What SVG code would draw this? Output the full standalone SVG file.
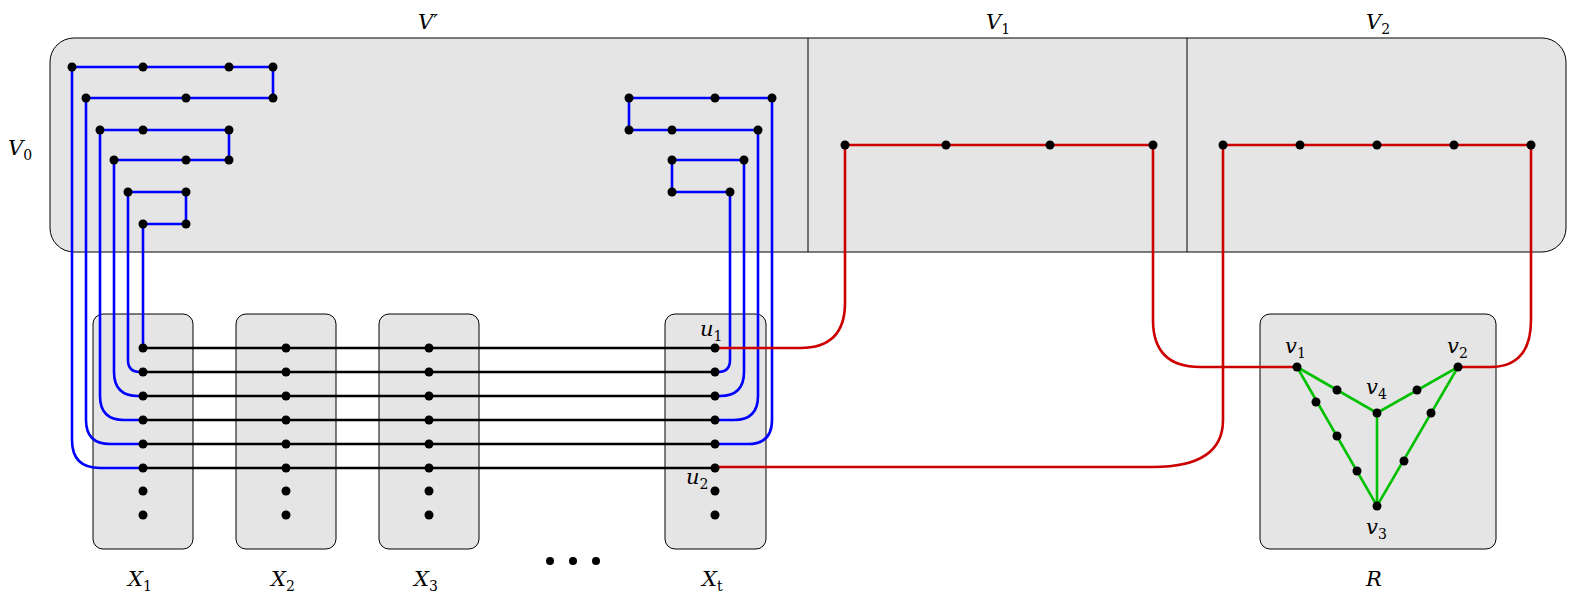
<svg xmlns="http://www.w3.org/2000/svg" width="1578" height="599" viewBox="0 0 1578 599">
<style>
.box{fill:#e5e5e5;stroke:#000;stroke-width:1}
.b{fill:none;stroke:#0000ff;stroke-width:2.6}
.r{fill:none;stroke:#cc0000;stroke-width:2.6}
.k{fill:none;stroke:#000;stroke-width:2.6}
.g{fill:none;stroke:#00c000;stroke-width:2.6}
.d{fill:#000}
text{font-family:"DejaVu Serif","Liberation Serif",serif;font-style:italic;font-size:21px;fill:#000}
.s{font-size:14px;font-style:normal}
</style>
<rect width="1578" height="599" fill="#fff"/>
<g id="V">
<rect class="box" x="50" y="38" width="1516" height="214" rx="24"/>
<line x1="808" y1="38" x2="808" y2="252" stroke="#000"/>
<line x1="1187" y1="38" x2="1187" y2="252" stroke="#000"/>
<text x="418" y="29">V′</text>
<text x="986" y="29">V<tspan class="s" dy="5">1</tspan></text>
<text x="1366" y="29">V<tspan class="s" dy="5">2</tspan></text>
<text x="8" y="155">V<tspan class="s" dy="5">0</tspan></text>
</g>
<g id="X1"><rect class="box" x="93" y="314" width="100" height="235" rx="10"/><text x="128" y="586">X<tspan class="s" dy="5">1</tspan></text></g>
<g id="X2"><rect class="box" x="236" y="314" width="100" height="235" rx="10"/><text x="271" y="586">X<tspan class="s" dy="5">2</tspan></text></g>
<g id="X3"><rect class="box" x="379" y="314" width="100" height="235" rx="10"/><text x="414" y="586">X<tspan class="s" dy="5">3</tspan></text></g>
<g id="Xt"><rect class="box" x="665" y="314" width="101" height="235" rx="10"/><text x="702" y="586">X<tspan class="s" dy="5">t</tspan></text>
<text x="700" y="336">u<tspan class="s" dy="5">1</tspan></text><text x="686" y="484">u<tspan class="s" dy="5">2</tspan></text></g>
<g id="R"><rect class="box" x="1260" y="314" width="236" height="235" rx="10"/><text x="1366" y="586">R</text>
<text x="1285" y="353">v<tspan class="s" dy="5">1</tspan></text>
<text x="1447" y="353">v<tspan class="s" dy="5">2</tspan></text>
<text x="1366" y="394">v<tspan class="s" dy="5">4</tspan></text>
<text x="1366" y="534">v<tspan class="s" dy="5">3</tspan></text></g>
<g id="dots"><circle class="d" cx="550" cy="561" r="4"/><circle class="d" cx="573" cy="561" r="4"/><circle class="d" cx="596" cy="561" r="4"/></g>
<g id="connectors">
<path class="k" d="M143 348H715M143 372H715M143 396H715M143 420H715M143 444H715M143 468H715"/>
<path class="b" d="M72 67H273V98H86V420Q86 444 110 444H143"/>
<path class="b" d="M72 67V440Q72 468 100 468H143"/>
<path class="b" d="M100 130H229V160H114V372Q114 396 138 396H143"/>
<path class="b" d="M100 130V396Q100 420 124 420H143"/>
<path class="b" d="M128 192H186V224H143V348"/>
<path class="b" d="M128 192V360Q128 372 140 372H143"/>
<path class="b" d="M772 98H629V130H758"/>
<path class="b" d="M772 98V420Q772 444 748 444H715"/>
<path class="b" d="M758 130V396Q758 420 734 420H715"/>
<path class="b" d="M744 160H672V192H730"/>
<path class="b" d="M744 160V372Q744 396 720 396H715"/>
<path class="b" d="M730 192V360Q730 372 718 372H715"/>
<path class="r" d="M845 145H1153V320Q1153 367 1200 367H1297"/>
<path class="r" d="M845 145V303Q845 348 800 348H715"/>
<path class="r" d="M1223 145H1531V320Q1531 367 1490 367H1458"/>
<path class="r" d="M1223 145V420Q1223 467 1153 467H715"/>
<path class="g" d="M1297 367L1377 413L1458 367L1377 506L1297 367M1377 413V506"/>
</g>
<g id="vertices" class="d">
<circle cx="72" cy="67" r="4.5"/><circle cx="143" cy="67" r="4.5"/><circle cx="229" cy="67" r="4.5"/><circle cx="273" cy="67" r="4.5"/>
<circle cx="86" cy="98" r="4.5"/><circle cx="186" cy="98" r="4.5"/><circle cx="273" cy="98" r="4.5"/>
<circle cx="100" cy="130" r="4.5"/><circle cx="143" cy="130" r="4.5"/><circle cx="229" cy="130" r="4.5"/>
<circle cx="114" cy="160" r="4.5"/><circle cx="186" cy="160" r="4.5"/><circle cx="229" cy="160" r="4.5"/>
<circle cx="128" cy="192" r="4.5"/><circle cx="186" cy="192" r="4.5"/>
<circle cx="143" cy="224" r="4.5"/><circle cx="186" cy="224" r="4.5"/>
<circle cx="629" cy="98" r="4.5"/><circle cx="715" cy="98" r="4.5"/><circle cx="772" cy="98" r="4.5"/>
<circle cx="629" cy="130" r="4.5"/><circle cx="672" cy="130" r="4.5"/><circle cx="758" cy="130" r="4.5"/>
<circle cx="672" cy="160" r="4.5"/><circle cx="744" cy="160" r="4.5"/>
<circle cx="672" cy="192" r="4.5"/><circle cx="730" cy="192" r="4.5"/>
<circle cx="845" cy="145" r="4.5"/><circle cx="946" cy="145" r="4.5"/><circle cx="1050" cy="145" r="4.5"/><circle cx="1153" cy="145" r="4.5"/>
<circle cx="1223" cy="145" r="4.5"/><circle cx="1300" cy="145" r="4.5"/><circle cx="1377" cy="145" r="4.5"/><circle cx="1454" cy="145" r="4.5"/><circle cx="1531" cy="145" r="4.5"/>
<circle cx="1297" cy="367" r="4.5"/><circle cx="1458" cy="367" r="4.5"/><circle cx="1377" cy="413" r="4.5"/><circle cx="1377" cy="506" r="4.5"/>
<circle cx="1337" cy="390" r="4.5"/><circle cx="1417" cy="390" r="4.5"/>
<circle cx="1316" cy="402" r="4.5"/><circle cx="1337" cy="436" r="4.5"/><circle cx="1357" cy="471" r="4.5"/>
<circle cx="1431" cy="413" r="4.5"/><circle cx="1404" cy="461" r="4.5"/>
</g>
<g id="columns" class="d">
<circle cx="143" cy="348" r="4.5"/><circle cx="143" cy="372" r="4.5"/><circle cx="143" cy="396" r="4.5"/><circle cx="143" cy="420" r="4.5"/><circle cx="143" cy="444" r="4.5"/><circle cx="143" cy="468" r="4.5"/><circle cx="143" cy="491" r="4.5"/><circle cx="143" cy="515" r="4.5"/>
<circle cx="286" cy="348" r="4.5"/><circle cx="286" cy="372" r="4.5"/><circle cx="286" cy="396" r="4.5"/><circle cx="286" cy="420" r="4.5"/><circle cx="286" cy="444" r="4.5"/><circle cx="286" cy="468" r="4.5"/><circle cx="286" cy="491" r="4.5"/><circle cx="286" cy="515" r="4.5"/>
<circle cx="429" cy="348" r="4.5"/><circle cx="429" cy="372" r="4.5"/><circle cx="429" cy="396" r="4.5"/><circle cx="429" cy="420" r="4.5"/><circle cx="429" cy="444" r="4.5"/><circle cx="429" cy="468" r="4.5"/><circle cx="429" cy="491" r="4.5"/><circle cx="429" cy="515" r="4.5"/>
<circle cx="715" cy="348" r="4.5"/><circle cx="715" cy="372" r="4.5"/><circle cx="715" cy="396" r="4.5"/><circle cx="715" cy="420" r="4.5"/><circle cx="715" cy="444" r="4.5"/><circle cx="715" cy="468" r="4.5"/><circle cx="715" cy="491" r="4.5"/><circle cx="715" cy="515" r="4.5"/>
</g>
</svg>
